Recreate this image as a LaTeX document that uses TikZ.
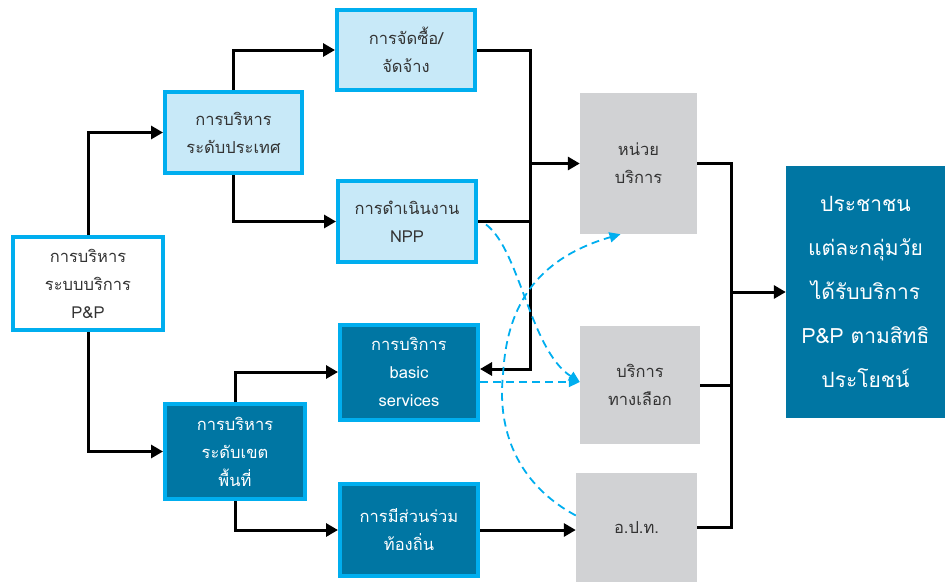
\documentclass[tikz,border=0pt]{standalone}
\usepackage{fontspec}
\setmainfont[Script=Thai]{Loma}
\usetikzlibrary{arrows.meta,positioning,calc}
\definecolor{pcyan}{RGB}{0,174,239}
\definecolor{plight}{RGB}{200,233,248}
\definecolor{pdark}{RGB}{0,118,163}
\definecolor{pgray}{RGB}{209,210,212}
\definecolor{ptext}{RGB}{51,51,51}
\tikzset{
  wbox/.style={draw=pcyan, line width=4pt, fill=white, text=ptext, align=center,
               inner sep=0pt, font=\fontsize{16.5}{28}\selectfont},
  lbox/.style={wbox, fill=plight},
  dbox/.style={wbox, fill=pdark, text=white},
  gbox/.style={fill=pgray, text=ptext, align=center, inner sep=0pt,
               font=\fontsize{16.5}{28}\selectfont},
  tbox/.style={fill=pdark, text=white, align=center, inner sep=0pt,
               font=\fontsize{21}{44}\selectfont},
  arr/.style={-{Triangle[length=12pt,width=13pt]}, line width=3pt},
  bus/.style={line width=3pt},
  darr/.style={-{Triangle[length=11pt,width=10pt]}, pcyan, line width=1.8pt,
               dash pattern=on 8pt off 5pt},
}

\begin{document}
\begin{tikzpicture}[x=1pt, y=-1pt]
  \useasboundingbox (0,0) rectangle (945,582);
  \node[wbox, minimum width=150pt, minimum height=93pt] (sys) at (88,283.5) {การบริหาร\\ระบบบริการ\\P\&P};
  \node[lbox, minimum width=137pt, minimum height=81pt] (nat) at (233.5,132.5) {การบริหาร\\ระดับประเทศ};
  \node[lbox, minimum width=138pt, minimum height=80pt] (buy) at (406,50) {การจัดซื้อ/\\จัดจ้าง};
  \node[lbox, minimum width=138pt, minimum height=81pt] (npp) at (407,221.5) {การดำเนินงาน\\NPP};
  \node[dbox, minimum width=138pt, minimum height=95pt] (basic) at (409,372) {การบริการ\\basic\\services};
  \node[dbox, minimum width=140pt, minimum height=95pt] (reg) at (235,451.5) {การบริหาร\\ระดับเขต\\พื้นที่};
  \node[dbox, minimum width=138pt, minimum height=92pt] (loc) at (409,530) {การมีส่วนร่วม\\ท้องถิ่น};
  \node[gbox, minimum width=117pt, minimum height=141pt] (unit) at (638.5,163.5) {หน่วย\\บริการ};
  \node[gbox, minimum width=120pt, minimum height=118pt] (alt) at (640,385) {บริการ\\ทางเลือก};
  \node[gbox, minimum width=121pt, minimum height=109pt] (opt) at (636.5,527.5) {อ.ป.ท.};
  \node[tbox, minimum width=159pt, minimum height=252pt] (ppl) at (865.5,292) {ประชาชน\\แต่ละกลุ่มวัย\\ได้รับบริการ\\P\&P ตามสิทธิ\\ประโยชน์};

  \draw[arr] (sys.north) |- (nat.west);
  \draw[arr] (sys.south) |- (reg.west);
  \draw[arr] (nat.north) |- (buy.west);
  \draw[arr] (nat.south) |- (npp.west);
  \draw[arr] (reg.north) |- (basic.west);
  \draw[arr] (reg.south) |- (loc.west);

  \coordinate (busl) at (530,369);
  \coordinate (busr) at (731,0);
  \draw[arr] (buy.east) -| (busl) -- (busl -| basic.east);
  \draw[bus] (npp.east) -- (npp.east -| busl);
  \draw[arr] (busl |- unit.west) -- (unit.west);
  \draw[bus] (unit.east) -| (opt.east -| busr) -- (opt.east);
  \draw[bus] (alt.east) -- (alt.east -| busr);
  \draw[arr] (busr |- ppl.west) -- (ppl.west);
  \draw[arr] (loc.east) -- (loc.east -| opt.west);

  \draw[darr] ([shift={(8,3)}]npp.east) .. controls (520,250) and (530,350) .. ([yshift=3pt]alt.west);
  \draw[darr] ([yshift=-10pt]basic.east) -- ([yshift=-10pt]basic.east -| alt.west);
  \draw[darr] ([yshift=12pt]opt.west) .. controls (510,480) and (498,420) .. (503,375)
    .. controls (506,320) and (525,262) .. ([xshift=-18pt]unit.south);
\end{tikzpicture}
\end{document}
